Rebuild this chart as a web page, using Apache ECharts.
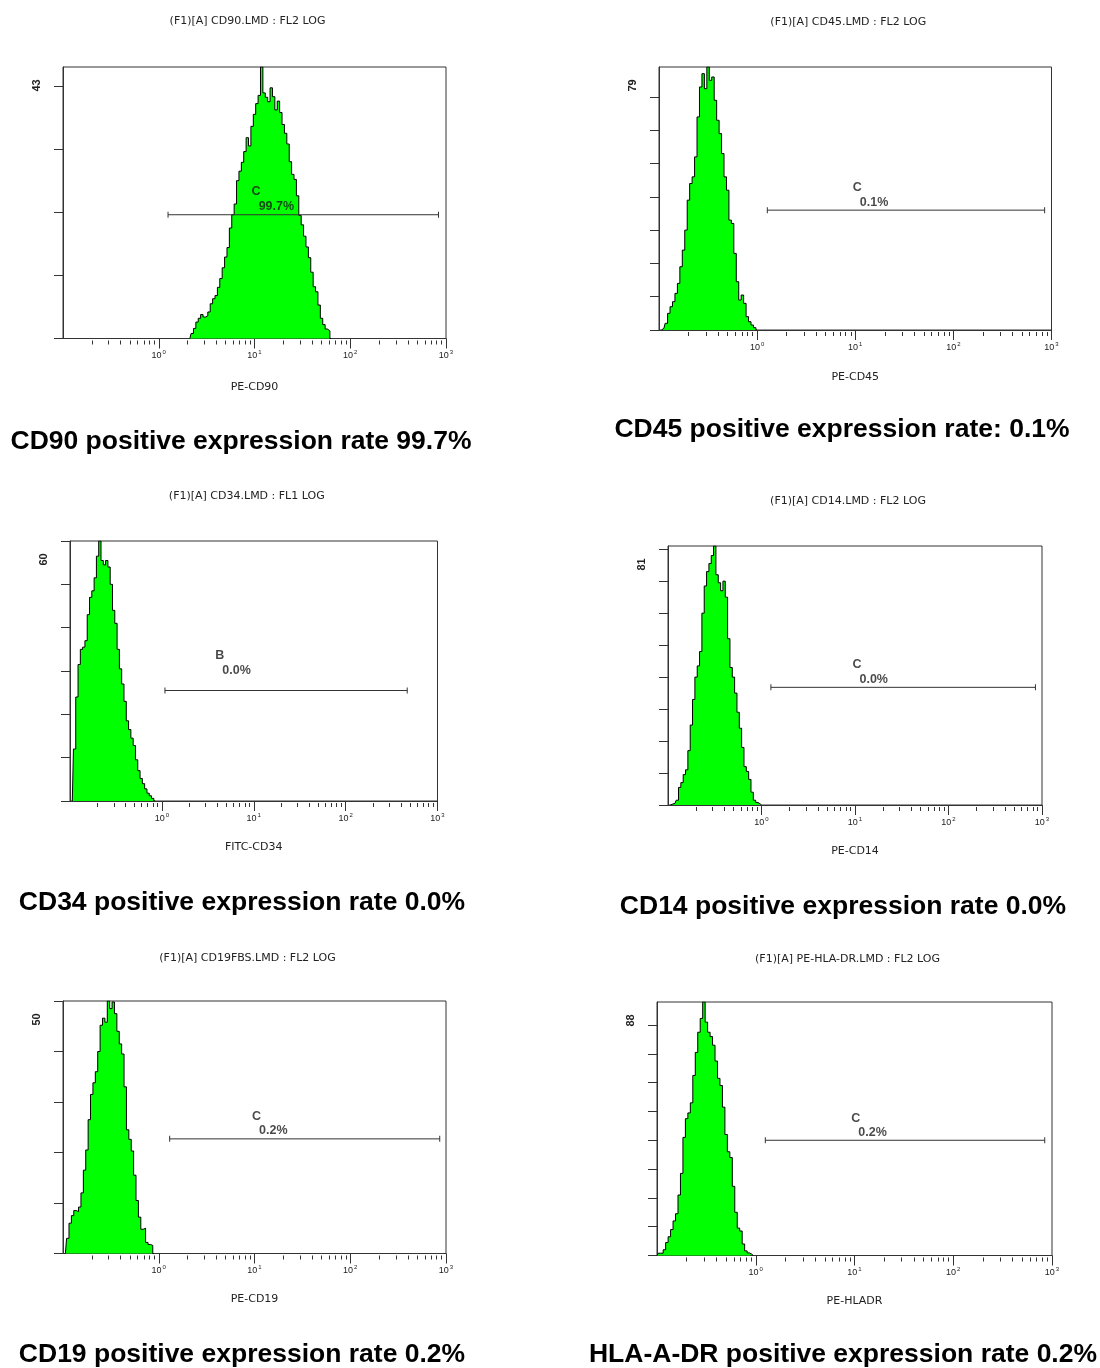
<!DOCTYPE html>
<html>
<head>
<meta charset="utf-8">
<script src="https://cdn.jsdelivr.net/npm/echarts@6/dist/echarts.min.js"></script>
<style>
html,body{margin:0;padding:0;background:#fff;}
#main{width:1100px;height:1368px;}
</style>
</head>
<body>
<div id="main"></div>
<script>
// ================= DATA =================
// histogram channel width, in decades of fluorescence
const CHANNEL_STEP = 0.025;

// log10 of the first channel of each histogram, and the counts per channel
const cd90First = 0.325;
const cd90Counts = [0,0.8,1.6,2.6,3.2,3.8,3.4,3.6,4.2,5.5,6.3,6.8,8.1,9.5,11.2,12.9,14.4,17.5,19.6,21.3,25,26.5,27.9,29.6,31.8,30.5,33.6,35.5,37.2,38.5,43,38.9,38.2,37.5,39.7,38.3,36.2,37.6,35.8,33.9,32.5,30.8,28,26,25.2,22.6,19.5,18,16.2,14.5,12.8,10.5,8.2,7.4,5.3,3.2,2.2,1.5,1.2,0];

const cd45First = -0.975;
const cd45Counts = [0,0.5,2,5,7,8.5,11,14,19,24,30,39,44,46,52,64,73,77,72.5,79,75,76,69,63,59,53,46,42,33,32,23,14.5,9,10.5,8,4,2.5,1.5,0.7,0];

const cd34First = -0.975;
const cd34Counts = [0,12,24,31.5,35,35.5,37,43,47,48.5,51.5,56.5,60,55.5,54.5,55.5,54,50,44,41,35,30.5,27,23,18.5,16.5,14.5,12.8,9.5,7,5.2,4,2.8,1.8,1.2,0.6,0];

const cd14First = -0.975;
const cd14Counts = [0,0.3,0.5,1.5,5.5,7,9.5,11,17,25,33,40,43.5,48,60,68.5,73,75.5,78,81,72,69.5,67,70,65,52,43,40,35,29,24,18,12,10.5,8,4,1.5,0.8,0.3,0];

const cd19First = -0.975;
const cd19Counts = [0,3,6,7.5,8.5,8.3,9.2,12,16.5,20.5,26.5,31.5,33.8,36,40,45.2,46.6,45.8,50,48.5,49.8,47.5,44,41.5,39.5,33,24.5,22.6,20.3,15.5,10.5,7.2,4.8,5,2.2,1.8,1.6,0];

const hladrFirst = -1.0;
const hladrCounts = [0,0.8,0.8,2,4.5,6.5,9,12,14.5,21,28.5,41,47.5,49.5,53,62.5,70.5,77.5,82.3,88,81,77.5,76,73,67.5,61.5,59,51.5,42,36,34,24,15,9.5,8.5,4,1.6,0.9,0.4,0];

// y-axis maximum (count) printed at top-left of each plot
const yMaxCounts = [43, 79, 60, 81, 50, 88];

// gate markers
const gateNames = ['C', 'C', 'B', 'C', 'C', 'C'];
const gatePercents = ['99.7%', '0.1%', '0.0%', '0.0%', '0.2%', '0.2%'];
const gateLow = [1.25, 1.27, 1.08, 1.26, 1.30, 1.25];
const gateHigh = [835, 851, 468, 851, 860, 844];
const gateLevel = [19.6, 36.0, 25.5, 36.8, 22.7, 40.0];

// texts
const plotTitles = [
  '(F1)[A] CD90.LMD : FL2 LOG',
  '(F1)[A] CD45.LMD : FL2 LOG',
  '(F1)[A] CD34.LMD : FL1 LOG',
  '(F1)[A] CD14.LMD : FL2 LOG',
  '(F1)[A] CD19FBS.LMD : FL2 LOG',
  '(F1)[A] PE-HLA-DR.LMD : FL2 LOG'
];
const axisNames = ['PE-CD90', 'PE-CD45', 'FITC-CD34', 'PE-CD14', 'PE-CD19', 'PE-HLADR'];
const captions = [
  'CD90 positive expression rate 99.7%',
  'CD45 positive expression rate: 0.1%',
  'CD34 positive expression rate 0.0%',
  'CD14 positive expression rate 0.0%',
  'CD19 positive expression rate 0.2%',
  'HLA-A-DR positive expression rate 0.2%'
];

// x-axis tick labels (base and exponent)
const xDecades = [1, 10, 100, 1000];
const xDecadeExponents = ['0', '1', '2', '3'];

// ================= LAYOUT =================
const LAYOUT = [
  {left: 63,  top: 67,   width: 383,   height: 271.5, titleY: 21,  capX: 241, capY: 442,  nameGap: 43,   labelX: 10.4, nameDy: -23, pctDy: -8},
  {left: 659, top: 67,   width: 392.5, height: 263,   titleY: 22,  capX: 842, capY: 430,  nameGap: 41.5, labelX: 10.5, nameDy: -23, pctDy: -8},
  {left: 70,  top: 541,  width: 367.5, height: 260,   titleY: 496, capX: 242, capY: 903,  nameGap: 41,   labelX: 4.27, nameDy: -35, pctDy: -20},
  {left: 668, top: 546,  width: 374,   height: 259,   titleY: 501, capX: 843, capY: 907,  nameGap: 40.5, labelX: 10.5, nameDy: -23, pctDy: -8},
  {left: 63,  top: 1001, width: 383,   height: 252.5, titleY: 958, capX: 242, capY: 1355, nameGap: 40,   labelX: 10.5, nameDy: -22, pctDy: -8},
  {left: 657, top: 1002, width: 395,   height: 253.5, titleY: 959, capX: 843, capY: 1355, nameGap: 40.5, labelX: 10.3, nameDy: -22, pctDy: -8}
];

const histFirst = [cd90First, cd45First, cd34First, cd14First, cd19First, hladrFirst];
const histCounts = [cd90Counts, cd45Counts, cd34Counts, cd14Counts, cd19Counts, hladrCounts];

const minorTicks = [];
[0.1, 1, 10, 100].forEach(d => { for (let m = 2; m <= 9; m++) minorTicks.push(+(m * d).toPrecision(3)); });

const AX = '#333';
const SMALL_FONT = '"DejaVu Sans", "Liberation Sans", sans-serif';
const ARIAL = '"Liberation Sans", Arial, sans-serif';

const grids = [], xAxes = [], yAxes = [], series = [], graphics = [];

LAYOUT.forEach((L, k) => {
  grids.push({left: L.left, top: L.top, width: L.width, height: L.height, show: true, borderColor: AX, borderWidth: 1, containLabel: false});

  // major (decade) axis
  xAxes.push({
    type: 'log', logBase: 10, gridIndex: k, position: 'bottom', min: 0.1, max: 1000,
    axisLine: {show: true, onZero: false, lineStyle: {color: AX, width: 1}},
    axisTick: {show: true, customValues: xDecades, length: 10, lineStyle: {color: AX, width: 1}},
    axisLabel: {
      show: true, customValues: xDecades, margin: 11,
      formatter: v => {
        const i = xDecades.findIndex(d => Math.abs(d - v) / d < 1e-6);
        return i >= 0 ? '{b|10}{s|' + xDecadeExponents[i] + '}' : '';
      },
      rich: {
        b: {fontFamily: ARIAL, fontSize: 9, color: '#222', lineHeight: 11, verticalAlign: 'bottom'},
        s: {fontFamily: ARIAL, fontSize: 6, color: '#222', lineHeight: 11, verticalAlign: 'top', padding: [0, 0, 0, 1]}
      }
    },
    splitLine: {show: false},
    name: axisNames[k], nameLocation: 'middle', nameGap: L.nameGap,
    nameTextStyle: {fontFamily: SMALL_FONT, fontSize: 11, color: '#222'}
  });
  // minor axis (2..9 of each decade), drawn just under the axis line
  xAxes.push({
    type: 'log', logBase: 10, gridIndex: k, position: 'bottom', min: 0.1, max: 1000, offset: 2,
    axisLine: {show: false, onZero: false},
    axisTick: {show: true, customValues: minorTicks, length: 4, lineStyle: {color: AX, width: 1}},
    axisLabel: {show: false},
    splitLine: {show: false}
  });

  const yTicks = [];
  for (let v = 0; v <= yMaxCounts[k]; v += 10) yTicks.push(v);
  yAxes.push({
    type: 'value', gridIndex: k, position: 'left', min: 0, max: yMaxCounts[k],
    axisLine: {show: true, onZero: false, lineStyle: {color: AX, width: 1}},
    axisTick: {show: true, customValues: yTicks, length: 9, lineStyle: {color: AX, width: 1}},
    axisLabel: {show: false},
    splitLine: {show: false}
  });

  // histogram
  const pts = histCounts[k].map((c, i) => [Math.pow(10, histFirst[k] + i * CHANNEL_STEP), c]);
  series.push({
    type: 'line', xAxisIndex: 2 * k, yAxisIndex: k, data: pts, step: 'middle',
    symbol: 'none', silent: true, z: 2,
    lineStyle: {color: '#000', width: 1},
    areaStyle: {color: '#00FF00', opacity: 1}
  });
  // gate
  series.push({
    type: 'line', xAxisIndex: 2 * k, yAxisIndex: k,
    data: [[gateLow[k], gateLevel[k]], [gateHigh[k], gateLevel[k]]],
    symbol: 'rect', symbolSize: [1, 6], silent: true, z: 3,
    lineStyle: {color: '#333', width: 1}, itemStyle: {color: '#333'}
  });
  // gate labels
  const lblStyle = {fontFamily: ARIAL, fontWeight: 'bold', fontSize: 12.5, color: '#1a1a1a'};
  series.push({
    type: 'scatter', xAxisIndex: 2 * k, yAxisIndex: k, symbolSize: 0, silent: true, z: 4,
    data: [
      {value: [L.labelX, gateLevel[k]], label: Object.assign({show: true, formatter: gateNames[k], position: [0, L.nameDy], align: 'center', verticalAlign: 'middle'}, lblStyle)},
      {value: [L.labelX, gateLevel[k]], label: Object.assign({show: true, formatter: gatePercents[k], position: [2.5, L.pctDy], align: 'left', verticalAlign: 'middle'}, lblStyle)}
    ]
  });

  // titles, captions, count labels
  graphics.push({type: 'text', x: L.left + L.width / 2 - 7, y: L.titleY,
    style: {text: plotTitles[k], fill: '#222', font: '11px ' + SMALL_FONT, align: 'center', verticalAlign: 'middle'}});
  graphics.push({type: 'text', x: L.capX, y: L.capY,
    style: {text: captions[k], fill: '#000', font: 'bold 26.5px ' + ARIAL, align: 'center', verticalAlign: 'middle'}});
  graphics.push({type: 'text', x: L.left - 26, y: L.top + 18.5, rotation: Math.PI / 2,
    style: {text: String(yMaxCounts[k]), fill: '#222', font: 'bold 11px ' + ARIAL, align: 'center', verticalAlign: 'middle'}});
});

const chart = echarts.init(document.getElementById('main'), null, {renderer: 'canvas'});
chart.setOption({
  animation: false,
  backgroundColor: '#fff',
  grid: grids,
  xAxis: xAxes,
  yAxis: yAxes,
  series: series,
  graphic: graphics
});
</script>
</body>
</html>
